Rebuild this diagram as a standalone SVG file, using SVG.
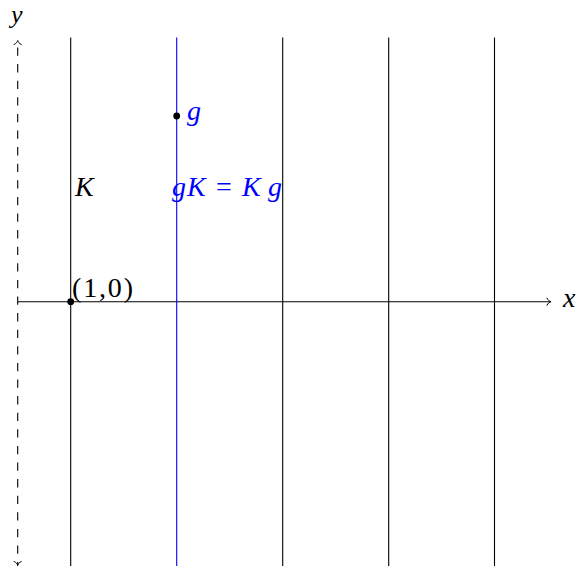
<svg xmlns="http://www.w3.org/2000/svg" width="581" height="570" viewBox="0 0 581 570">
  <style>
    .ln { stroke: #000; stroke-width: 1.1; fill: none; }
    .blue { stroke: #0000ff; }
    .mi { font-family: "Liberation Serif", "Times New Roman", serif; font-style: italic; font-size: 28px; }
    .rm { font-family: "Liberation Serif", "Times New Roman", serif; font-style: normal; font-size: 28px; }
    .bl { fill: #0000ff; }
  </style>
  <defs>
    <marker id="to" markerUnits="userSpaceOnUse" markerWidth="12" markerHeight="12" viewBox="-6 -6 12 12" refX="0" refY="0" orient="auto-start-reverse">
      <path d="M-4,-3.6 C-3,-1.2 -1.2,-0.3 0,0 C-1.2,0.3 -3,1.2 -4,3.6" fill="none" stroke="#000" stroke-width="1" stroke-dasharray="none" stroke-linecap="round"/>
    </marker>
  </defs>
  <rect width="581" height="570" fill="#fff"/>
  <g id="connectors">
    <line id="y-axis" class="ln" x1="17.7" y1="40.5" x2="17.7" y2="565.5" stroke-dasharray="8.3 8.3" stroke-dashoffset="9.6" marker-start="url(#to)" marker-end="url(#to)"/>
    <line id="x-axis" class="ln" x1="17.7" y1="301.7" x2="551" y2="301.7" marker-end="url(#to)"/>
    <line id="line-K" class="ln" x1="70.7" y1="37.5" x2="70.7" y2="566"/>
    <line id="line-gK" class="ln blue" x1="176.7" y1="37.5" x2="176.7" y2="566"/>
    <line id="line-3" class="ln" x1="282.7" y1="37.5" x2="282.7" y2="566"/>
    <line id="line-4" class="ln" x1="388.7" y1="37.5" x2="388.7" y2="566"/>
    <line id="line-5" class="ln" x1="494.5" y1="37.5" x2="494.5" y2="566"/>
  </g>
  <g id="axis-labels">
    <text class="mi" x="11" y="23" style="font-size:26px">y</text>
    <text class="mi" x="563" y="307">x</text>
  </g>
  <g id="point-origin">
    <circle cx="70.7" cy="301.7" r="3.4" fill="#000"/>
    <text class="rm" x="72" y="297" textLength="61" lengthAdjust="spacing">(1,0)</text>
  </g>
  <g id="point-g">
    <circle cx="176.7" cy="116" r="3.4" fill="#000"/>
    <text class="mi bl" x="187" y="120">g</text>
  </g>
  <g id="label-K">
    <text class="mi" x="75" y="196">K</text>
  </g>
  <g id="label-gK">
    <text class="mi bl" y="196"><tspan x="172">g</tspan><tspan x="187">K</tspan><tspan class="rm" x="216">=</tspan><tspan x="242">K</tspan><tspan x="268">g</tspan></text>
  </g>
</svg>
